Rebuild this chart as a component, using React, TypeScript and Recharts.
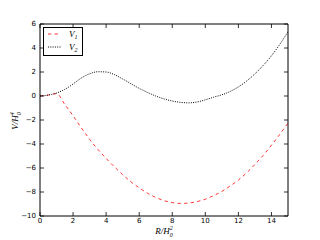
import React from 'react';
import { LineChart, Line, XAxis, YAxis, Legend, Label } from 'recharts';

const xValues = [0, 0.5, 1, 1.5, 2, 2.5, 3, 3.5, 4, 4.5, 5, 5.5, 6, 6.5, 7, 7.5, 8, 8.5, 9, 9.5, 10, 10.5, 11, 11.5, 12, 12.5, 13, 13.5, 14, 14.5, 15];
const v1Values = [0, 0.08, 0.2, -0.7, -1.65, -2.65, -3.6, -4.45, -5.2, -5.9, -6.55, -7.15, -7.65, -8.1, -8.45, -8.72, -8.88, -8.95, -8.92, -8.8, -8.6, -8.3, -7.95, -7.5, -7.0, -6.4, -5.7, -4.95, -4.1, -3.2, -2.25];
const v2Values = [0, 0.08, 0.25, 0.55, 1.0, 1.5, 1.85, 2.02, 2.0, 1.78, 1.42, 1.02, 0.64, 0.3, 0.0, -0.24, -0.42, -0.53, -0.57, -0.5, -0.32, -0.1, 0.1, 0.38, 0.76, 1.25, 1.85, 2.55, 3.35, 4.3, 5.35];
const xTicks = [0, 2, 4, 6, 8, 10, 12, 14];
const yTicks = [-10, -8, -6, -4, -2, 0, 2, 4, 6];

const data = xValues.map((x, i) => ({ x, v1: v1Values[i], v2: v2Values[i] }));

const TICK_FONT = '"DejaVu Sans", sans-serif';
const MATH_FONT = '"Liberation Serif", "DejaVu Serif", serif';
const TL = 4;

const fmt = (v: number) => (v < 0 ? '\u2212' + Math.abs(v) : String(v));

const LeftTick = (p: any) => (
  <g>
    <line x1={p.x} x2={p.x + TL} y1={p.y} y2={p.y} stroke="#000" strokeWidth={0.8} />
    <text x={p.x - 4} y={p.y} dy="0.35em" textAnchor="end" fontSize={7} fontFamily={TICK_FONT} fill="#000">{fmt(p.payload.value)}</text>
  </g>
);
const RightTick = (p: any) => (
  <line x1={p.x} x2={p.x - TL} y1={p.y} y2={p.y} stroke="#000" strokeWidth={0.8} />
);
const BottomTick = (p: any) => (
  <g>
    <line x1={p.x} x2={p.x} y1={p.y} y2={p.y - TL} stroke="#000" strokeWidth={0.8} />
    <text x={p.x} y={p.y + 7} textAnchor="middle" fontSize={7} fontFamily={TICK_FONT} fill="#000">{fmt(p.payload.value)}</text>
  </g>
);
const TopTick = (p: any) => (
  <line x1={p.x} x2={p.x} y1={p.y} y2={p.y + TL} stroke="#000" strokeWidth={0.8} />
);

const XLabel = () => (
  <text x={164} y={234} textAnchor="middle" fontFamily={MATH_FONT} fontStyle="italic" fontSize={9} fill="#000">
    R/H<tspan fontSize={6} dy={3}>0</tspan><tspan fontSize={6} dy={-7} dx={-3}>2</tspan>
  </text>
);
const YLabel = () => (
  <text x={0} y={0} transform="translate(18,121) rotate(-90)" textAnchor="middle" fontFamily={MATH_FONT} fontStyle="italic" fontSize={9} fill="#000">
    V/H<tspan fontSize={6} dy={3}>0</tspan><tspan fontSize={6} dy={-7} dx={-3}>4</tspan>
  </text>
);

const LegendBox = () => (
  <div style={{ width: 38, height: 27, border: '1px solid #000', background: '#fff' }}>
    <svg width={38} height={27} style={{ display: 'block' }}>
      <line x1={4} x2={17} y1={6} y2={6} stroke="#ff0000" strokeWidth={0.8} strokeDasharray="3.3 3.3" />
      <text x={25} y={9} fontFamily={MATH_FONT} fontStyle="italic" fontSize={9} fill="#000">V<tspan fontSize={6} dy={2}>1</tspan></text>
      <line x1={4} x2={17} y1={19} y2={19} stroke="#000" strokeWidth={1} strokeDasharray="1 1.3" />
      <text x={25} y={22} fontFamily={MATH_FONT} fontStyle="italic" fontSize={9} fill="#000">V<tspan fontSize={6} dy={2}>2</tspan></text>
    </svg>
  </div>
);

export default function App() {
  return (
    <div style={{ position: 'absolute', left: 0, top: 0, width: 320, height: 240, background: '#fff' }}>
      <LineChart width={320} height={240} data={data} margin={{ top: 23, right: 31, bottom: 23, left: 39 }}>
        <XAxis xAxisId="b" type="number" dataKey="x" domain={[0, 15]} ticks={xTicks} height={1} tickSize={0} tickMargin={0} tick={<BottomTick />} axisLine={{ stroke: '#000', strokeWidth: 1 }} allowDataOverflow>
          <Label content={<XLabel />} />
        </XAxis>
        <XAxis xAxisId="t" orientation="top" type="number" dataKey="x" domain={[0, 15]} ticks={xTicks} height={1} tickSize={0} tickMargin={0} tick={<TopTick />} axisLine={{ stroke: '#000', strokeWidth: 1 }} allowDataOverflow />
        <YAxis yAxisId="l" type="number" domain={[-10, 6]} ticks={yTicks} width={1} tickSize={0} tickMargin={0} tick={<LeftTick />} axisLine={{ stroke: '#000', strokeWidth: 1 }} allowDataOverflow>
          <Label content={<YLabel />} />
        </YAxis>
        <YAxis yAxisId="r" orientation="right" type="number" domain={[-10, 6]} ticks={yTicks} width={1} tickSize={0} tickMargin={0} tick={<RightTick />} axisLine={{ stroke: '#000', strokeWidth: 1 }} allowDataOverflow />
        <Line xAxisId="b" yAxisId="l" type="monotone" dataKey="v1" stroke="#ff0000" strokeWidth={0.8} strokeDasharray="3.3 3.3" dot={false} isAnimationActive={false} />
        <Line xAxisId="b" yAxisId="l" type="monotone" dataKey="v2" stroke="#000" strokeWidth={1} strokeDasharray="1 1.3" dot={false} isAnimationActive={false} />
        <Legend layout="vertical" align="center" verticalAlign="middle" content={<LegendBox />} wrapperStyle={{ left: 43, top: 27, width: 40, height: 29 }} />
      </LineChart>
    </div>
  );
}
